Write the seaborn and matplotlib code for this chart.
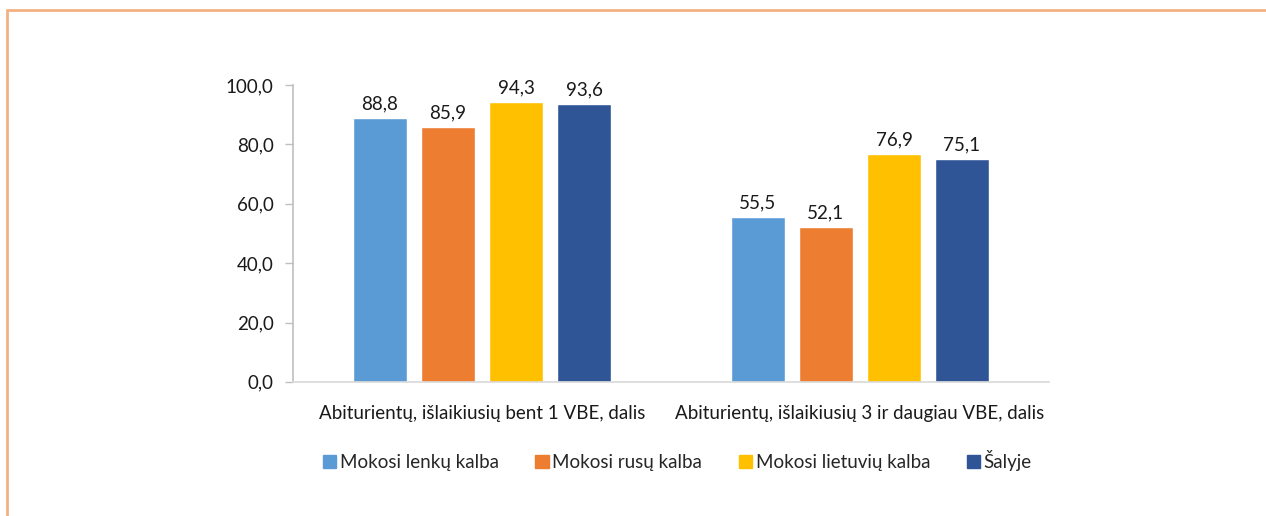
import matplotlib
matplotlib.use("Agg")
import matplotlib.pyplot as plt
import matplotlib.patches as mpatches
from matplotlib.ticker import FuncFormatter
import seaborn as sns
import pandas as pd

categories = [
    "Abiturientų, išlaikiusių bent 1 VBE, dalis",
    "Abiturientų, išlaikiusių 3 ir daugiau VBE, dalis",
]
series_names = [
    "Mokosi lenkų kalba",
    "Mokosi rusų kalba",
    "Mokosi lietuvių kalba",
    "Šalyje",
]
lenku = [88.8, 55.5]
rusu = [85.9, 52.1]
lietuviu = [94.3, 76.9]
salyje = [93.6, 75.1]
y_ticks = [0, 20, 40, 60, 80, 100]

colors = ["#5B9BD5", "#ED7D31", "#FFC000", "#2F5597"]

rows = []
for name, vals in zip(series_names, [lenku, rusu, lietuviu, salyje]):
    for cat, v in zip(categories, vals):
        rows.append({"cat": cat, "series": name, "value": v})
df = pd.DataFrame(rows)

sns.set_theme(style="white")
plt.rcParams["font.family"] = ["Lato", "DejaVu Sans"]
FS = 13.5

fig = plt.figure(figsize=(12.66, 5.16), dpi=100)
ax = fig.add_axes([0.2315, 0.26, 0.597, 0.575])

sns.barplot(data=df, x="cat", y="value", hue="series", hue_order=series_names,
            order=categories, palette=colors, width=0.72, gap=0.2,
            saturation=1, legend=False, ax=ax, errorbar=None)

for cont in ax.containers:
    ax.bar_label(cont, labels=[f"{v:.1f}".replace(".", ",") for v in cont.datavalues],
                 padding=4, fontsize=FS, color="#1a1a1a")

ax.set_ylim(0, 100)
ax.set_xlim(-0.5, 1.5)
ax.set_yticks(y_ticks)
ax.yaxis.set_major_formatter(FuncFormatter(lambda v, p: f"{v:.1f}".replace(".", ",")))
ax.set_xlabel("")
ax.set_ylabel("")
ax.tick_params(axis="y", which="both", left=True, length=6, width=1, color="#BFBFBF",
               labelsize=FS, labelcolor="#1a1a1a", pad=8)
ax.tick_params(axis="x", bottom=False, labelsize=FS, labelcolor="#1a1a1a", pad=11)
for s in ["top", "right"]:
    ax.spines[s].set_visible(False)
ax.spines["left"].set_color("#BFBFBF")
ax.spines["bottom"].set_color("#D9D9D9")
ax.spines["left"].set_linewidth(1.2)
ax.spines["bottom"].set_linewidth(1.2)

handles = [mpatches.Patch(color=c, label=n) for c, n in zip(colors, series_names)]
fig.legend(handles=handles, loc="center", bbox_to_anchor=(0.535, 0.107), ncol=4,
           frameon=False, fontsize=FS, handlelength=0.7, handleheight=0.7,
           handletextpad=0.2, columnspacing=1.95)

# outer frame
fig.add_artist(plt.Line2D([0.0055, 0.0055], [0.0, 0.981], color="#F4B183", lw=2,
                          transform=fig.transFigure))
fig.add_artist(plt.Line2D([0.0055, 1.0], [0.981, 0.981], color="#F4B183", lw=2,
                          transform=fig.transFigure))

fig.savefig("out.png", dpi=100)
